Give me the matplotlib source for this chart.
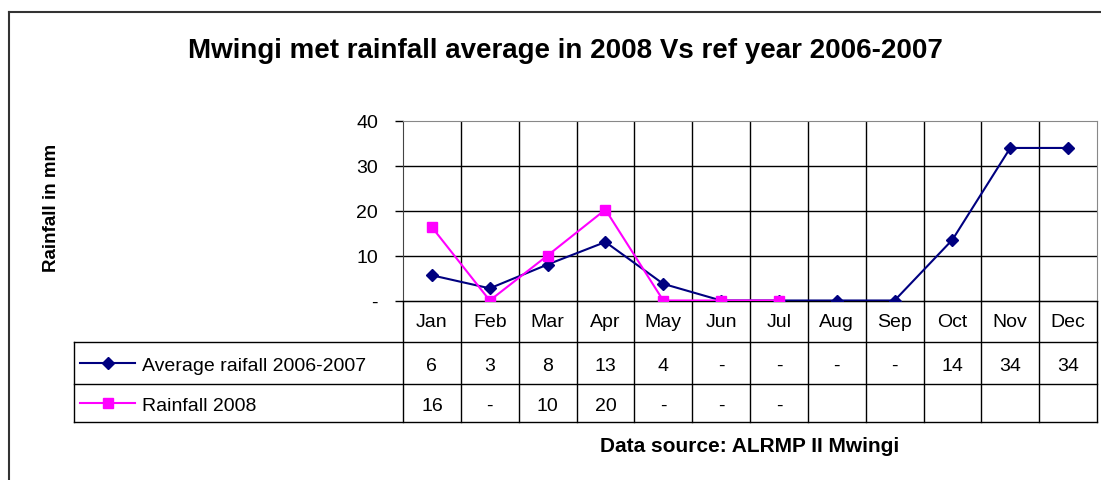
"""Mwingi met rainfall: 2008 vs reference years 2006-2007, Excel-style line chart with data table."""
import numpy as np
import matplotlib
matplotlib.use("Agg")
import matplotlib.pyplot as plt

plt.rcParams["font.family"] = ["Liberation Sans", "DejaVu Sans"]

months = ["Jan", "Feb", "Mar", "Apr", "May", "Jun", "Jul", "Aug", "Sep", "Oct", "Nov", "Dec"]
avg_0607 = [5.6, 2.7, 8.0, 13.0, 3.7, 0, 0, 0, 0, 13.5, 33.9, 33.9]
rain_2008 = [16.3, 0, 10.0, 20.2, 0, 0, 0, None, None, None, None, None]
series_names = ["Average raifall 2006-2007", "Rainfall 2008"]
yticks = [0, 10, 20, 30, 40]
ytick_lbl = ["-", "10", "20", "30", "40"]

NAVY, MAGENTA = "#000080", "#FF00FF"
W, H = 1101, 481
# pixel layout
PL, PR, PT, PB = 403, 1097, 121.5, 301.5
ROWS = [PB, 343, 385, 423]
BASE = [327, 371, 411]          # text baselines of the three table rows
LEG_L = 74
colw = (PR - PL) / len(months)
FS = 14

fig = plt.figure(figsize=(W / 100, H / 100), dpi=100)

# overlay for frame, table and texts (pixel coordinates)
ov = fig.add_axes([0, 0, 1, 1])
ov.set_xlim(0, W); ov.set_ylim(H, 0); ov.axis("off")
ov.plot([9, W], [13, 13], color="#333333", lw=1.5)
ov.plot([9, 9], [13, H], color="#333333", lw=1.5)

ax = fig.add_axes([PL / W, 1 - PB / H, (PR - PL) / W, (PB - PT) / H])
ax.set_facecolor("none")
x = np.arange(len(months))
ax.plot(x, avg_0607, color=NAVY, lw=1.5, marker="D", ms=6, zorder=3)
rx = [i for i, v in enumerate(rain_2008) if v is not None]
ry = [v for v in rain_2008 if v is not None]
ax.plot(rx, ry, color=MAGENTA, lw=1.5, marker="s", ms=7.5, zorder=4)
ax.set_xlim(-0.5, len(months) - 0.5)
ax.set_ylim(0, 40)
ax.set_yticks(yticks)
ax.set_yticklabels(ytick_lbl, fontsize=FS)
ax.tick_params(axis="y", length=6, width=1, pad=12)
ax.set_xticks([])
for k in range(1, len(months)):
    ax.axvline(k - 0.5, color="black", lw=1, zorder=1)
for v in yticks[1:-1]:
    ax.axhline(v, color="black", lw=1, zorder=1)
for s in ("top", "right"):
    ax.spines[s].set_color("#888888")
ax.spines["left"].set_color("#444444")
ax.spines["bottom"].set_color("black")

# data table
ov.plot([PL, PR], [ROWS[0], ROWS[0]], color="black", lw=1)
for r in ROWS[1:]:
    ov.plot([LEG_L, PR], [r, r], color="black", lw=1)
for k in range(len(months) + 1):
    ov.plot([PL + k * colw] * 2, [ROWS[0], ROWS[-1]], color="black", lw=1)
ov.plot([LEG_L, LEG_L], [ROWS[1], ROWS[-1]], color="black", lw=1)

def cell(v):
    if v is None:
        return ""
    return "-" if round(v) == 0 else f"{round(v)}"

for i, m in enumerate(months):
    cx = PL + (i + 0.5) * colw
    ov.text(cx, BASE[0], m, ha="center", va="baseline", fontsize=FS)
    ov.text(cx, BASE[1], cell(avg_0607[i]), ha="center", va="baseline", fontsize=FS)
    ov.text(cx, BASE[2], cell(rain_2008[i]), ha="center", va="baseline", fontsize=FS)

for j, (name, col, mk, ms) in enumerate(zip(series_names, (NAVY, MAGENTA), ("D", "s"), (6, 7.5))):
    yc = (ROWS[j + 1] + ROWS[j + 2]) / 2
    ov.plot([80, 135], [yc, yc], color=col, lw=1.5)
    ov.plot([107.5], [yc], color=col, marker=mk, ms=ms)
    ov.text(142, BASE[j + 1], name, ha="left", va="baseline", fontsize=FS)

ov.text(565, 58, "Mwingi met rainfall average in 2008 Vs ref year 2006-2007",
        ha="center", va="baseline", fontsize=20, fontweight="bold")
ov.text(56.5, 207.5, "Rainfall in mm", ha="center", va="baseline", rotation=90,
        rotation_mode="anchor", fontsize=13.5, fontweight="bold")
ov.text(750, 452, "Data source: ALRMP II Mwingi", ha="center", va="baseline",
        fontsize=15, fontweight="bold")

fig.savefig("out.png", dpi=100)
